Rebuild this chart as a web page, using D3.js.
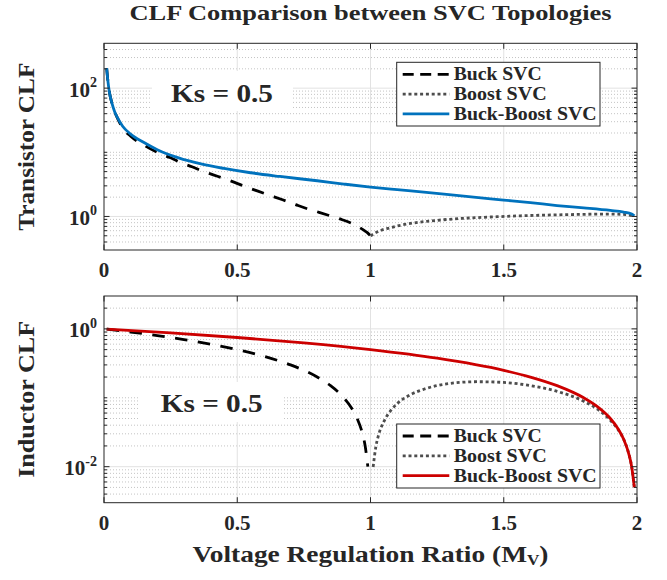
<!DOCTYPE html>
<html><head><meta charset="utf-8">
<script src="https://cdn.jsdelivr.net/npm/d3@7"></script>
<style>
body{margin:0;background:#fff}
text{font-family:"Liberation Serif","Times New Roman",serif;font-weight:bold;fill:#262626}
</style>
</head><body>
<svg id="c" width="667" height="580"></svg>
<script>
// ---------- data ----------
const xTicks = [0, 0.5, 1, 1.5, 2];
const xTickLabels = ["0", "0.5", "1", "1.5", "2"];
const topYTicks = [1, 100];
const topYExp = ["0", "2"];
const botYTicks = [0.01, 1];
const botYExp = ["-2", "0"];
const seriesNames = ["Buck SVC", "Boost SVC", "Buck-Boost SVC"];

// Transistor CLF
const trBuckM = [0.01,0.015,0.02,0.03,0.04,0.05,0.07,0.1,0.15,0.206,0.25,0.288,0.33,0.369,0.41,0.45,0.49,0.532,0.575,0.62,0.67,0.719,0.76,0.807,0.85,0.894,0.93,0.96,0.98,0.99,1.0];
const trBuckV = [205,125,88,58,43,34.5,24,17.8,12.9,9.7,8.2,6.9,5.95,5.1,4.45,3.9,3.4,2.9,2.5,2.15,1.82,1.53,1.33,1.16,1.02,0.89,0.78,0.67,0.59,0.55,0.5];
const trBoostM = [1.0,1.01,1.02,1.04,1.07,1.1,1.16,1.25,1.34,1.45,1.55,1.7,1.8,1.88,1.94,1.97,1.99];
const trBoostV = [0.5,0.53,0.56,0.61,0.66,0.71,0.79,0.87,0.93,0.98,1.02,1.06,1.08,1.09,1.08,1.05,1.0];
const trBBM = [0.01,0.015,0.02,0.03,0.04,0.05,0.07,0.1,0.15,0.2,0.28,0.36,0.45,0.55,0.66,0.8,0.9,1.0,1.1,1.2,1.35,1.5,1.6,1.7,1.8,1.9,1.95,1.98,1.99];
const trBBV = [205,125,88,58,43,35,25.5,19.2,14.2,11.0,8.2,6.65,5.6,4.8,4.2,3.6,3.2,2.87,2.62,2.4,2.07,1.8,1.64,1.48,1.36,1.24,1.17,1.09,1.02];

// Inductor CLF
const inBuckM = [0.01,0.1,0.2,0.3,0.4,0.5,0.6,0.7,0.8,0.85,0.9,0.93,0.95,0.97,0.98,0.99];
const inBuckV = [0.99,0.9,0.8,0.7,0.6,0.5,0.4,0.3,0.2,0.15,0.1,0.07,0.05,0.03,0.02,0.01];
const inBoostM = [1.01,1.02,1.03,1.05,1.08,1.1,1.15,1.2,1.3,1.4,1.5,1.6,1.7,1.8,1.85,1.9,1.93,1.95,1.97,1.98,1.99];
const inBoostV = [0.0099,0.0194,0.0285,0.045,0.068,0.082,0.111,0.133,0.162,0.171,0.167,0.15,0.124,0.089,0.069,0.047,0.034,0.025,0.015,0.01,0.005];
const inBBM = [0.01,0.25,0.5,0.75,1.0,1.25,1.5,1.6,1.7,1.8,1.85,1.9,1.93,1.95,1.97,1.98,1.99];
const inBBV = [0.995,0.875,0.75,0.625,0.5,0.375,0.25,0.2,0.15,0.1,0.075,0.05,0.035,0.025,0.015,0.01,0.005];

// ---------- layout ----------
const svg = d3.select("#c");
const L = 104, R = 637;
const x = d3.scaleLinear().domain([0, 2]).range([L, R]);
const AX = "#262626";
const legendLens = [88, 93, 143];

const panels = [
  {top: 43.3, bottom: 250, domain: [0.3, 500], majors: topYTicks, exps: topYExp,
   label: "Transistor CLF", labelLen: 168, bbColor: "#0072BD",
   data: [[trBuckM, trBuckV], [trBoostM, trBoostV], [trBBM, trBBV]],
   ks: {cx: 222, base: 101.7, box: [152, 71, 141, 40]},
   legend: {x: 396.7, y: 62.3, w: 203.3, h: 63.7}},
  {top: 296, bottom: 502.7, domain: [0.003, 3], majors: botYTicks, exps: botYExp,
   label: "Inductor CLF", labelLen: 157, bbColor: "#cc0000",
   data: [[inBuckM, inBuckV], [inBoostM, inBoostV], [inBBM, inBBV]],
   ks: {cx: 211.7, base: 411.7, box: [140, 382, 143, 40]},
   legend: {x: 396.7, y: 424, w: 203.3, h: 64}}
];

const styles = [
  {stroke: "#000", w: 2.8, dash: "12.5,10.5", ldash: "11,6.5"},
  {stroke: "#4d4d4d", w: 2.8, dash: "3,2.8", ldash: "3,2.8"},
  null
];

panels.forEach((p, pi) => {
  const y = d3.scaleLog().domain(p.domain).range([p.bottom, p.top]);
  const g = svg.append("g");
  const allTicks = y.ticks();
  const isMajor = v => p.majors.some(m => Math.abs(m - v) / m < 1e-6);
  const minors = allTicks.filter(v => !isMajor(v) && y(v) > p.top + 0.5 && y(v) < p.bottom - 0.5);

  // minor grid (dotted)
  g.selectAll(".mg").data(minors).enter().append("line")
    .attr("x1", L).attr("x2", R).attr("y1", d => y(d)).attr("y2", d => y(d))
    .attr("stroke", "#c4c4c4").attr("stroke-width", 1).attr("stroke-dasharray", "1,2");
  // major grid
  g.selectAll(".Mg").data(p.majors).enter().append("line")
    .attr("x1", L).attr("x2", R).attr("y1", d => y(d)).attr("y2", d => y(d))
    .attr("stroke", "#e2e2e2").attr("stroke-width", 1);
  g.selectAll(".Mx").data(xTicks.slice(1, -1)).enter().append("line")
    .attr("x1", d => x(d)).attr("x2", d => x(d)).attr("y1", p.top).attr("y2", p.bottom)
    .attr("stroke", "#e2e2e2").attr("stroke-width", 1);

  // Ks box + text
  const kb = p.ks.box;
  g.append("rect").attr("x", kb[0]).attr("y", kb[1]).attr("width", kb[2]).attr("height", kb[3]).attr("fill", "#fff");
  g.append("text").attr("x", p.ks.cx).attr("y", p.ks.base).attr("text-anchor", "middle")
    .style("font-size", "25px").attr("textLength", 102).attr("lengthAdjust", "spacingAndGlyphs")
    .text("Ks = 0.5");

  // curves
  const clipId = "clip" + pi;
  svg.append("clipPath").attr("id", clipId).append("rect")
    .attr("x", L).attr("y", p.top).attr("width", R - L).attr("height", p.bottom - p.top);
  const line = d3.line().x(d => x(d[0])).y(d => y(d[1])).curve(d3.curveMonotoneX);
  const cg = g.append("g").attr("clip-path", `url(#${clipId})`);
  p.data.forEach((s, si) => {
    const pts = s[0].map((m, i) => [m, s[1][i]]);
    const st = styles[si] || {stroke: p.bbColor, w: 2.8, dash: null};
    cg.append("path").attr("d", line(pts)).attr("fill", "none")
      .attr("stroke", st.stroke).attr("stroke-width", st.w)
      .attr("stroke-dasharray", st.dash);
  });

  // axes box
  g.append("rect").attr("x", L).attr("y", p.top).attr("width", R - L).attr("height", p.bottom - p.top)
    .attr("fill", "none").attr("stroke", AX).attr("stroke-width", 1);

  // ticks (inward, mirrored)
  const MT = 5.5, mt = 3;
  xTicks.forEach(v => {
    g.append("line").attr("x1", x(v)).attr("x2", x(v)).attr("y1", p.bottom).attr("y2", p.bottom - MT).attr("stroke", AX);
    g.append("line").attr("x1", x(v)).attr("x2", x(v)).attr("y1", p.top).attr("y2", p.top + MT).attr("stroke", AX);
  });
  p.majors.forEach(v => {
    g.append("line").attr("x1", L).attr("x2", L + MT).attr("y1", y(v)).attr("y2", y(v)).attr("stroke", AX);
    g.append("line").attr("x1", R).attr("x2", R - MT).attr("y1", y(v)).attr("y2", y(v)).attr("stroke", AX);
  });
  minors.forEach(v => {
    g.append("line").attr("x1", L).attr("x2", L + mt).attr("y1", y(v)).attr("y2", y(v)).attr("stroke", AX);
    g.append("line").attr("x1", R).attr("x2", R - mt).attr("y1", y(v)).attr("y2", y(v)).attr("stroke", AX);
  });

  // tick labels
  g.selectAll(".xl").data(xTicks).enter().append("text")
    .attr("x", d => x(d)).attr("y", p.bottom + 27).attr("text-anchor", "middle")
    .style("font-size", "21px").text((d, i) => xTickLabels[i]);
  p.majors.forEach((v, i) => {
    const t = g.append("text").attr("x", 97).attr("y", y(v) + 8.5).attr("text-anchor", "end")
      .style("font-size", "21px");
    t.append("tspan").text("10");
    t.append("tspan").attr("dy", -9.5).style("font-size", "14px").text(p.exps[i]);
  });

  // y label
  const cy = (p.top + p.bottom) / 2;
  g.append("text").attr("transform", `translate(34,${cy}) rotate(-90)`)
    .attr("text-anchor", "middle").style("font-size", "24px")
    .attr("textLength", p.labelLen).attr("lengthAdjust", "spacingAndGlyphs")
    .text(p.label);

  // legend
  const lg = p.legend;
  const lgg = svg.append("g");
  lgg.append("rect").attr("x", lg.x).attr("y", lg.y).attr("width", lg.w).attr("height", lg.h)
    .attr("fill", "#fff").attr("stroke", AX).attr("stroke-width", 1);
  seriesNames.forEach((nm, si) => {
    const ry = lg.y + 12 + si * 19.8;
    const st = styles[si] || {stroke: p.bbColor, w: 2.8, ldash: null};
    lgg.append("line").attr("x1", lg.x + 6).attr("x2", lg.x + 52.6).attr("y1", ry).attr("y2", ry)
      .attr("stroke", st.stroke).attr("stroke-width", st.w).attr("stroke-dasharray", st.ldash);
    lgg.append("text").attr("x", lg.x + 57).attr("y", ry + 6).style("font-size", "18px")
      .attr("textLength", legendLens[si]).attr("lengthAdjust", "spacingAndGlyphs").text(nm);
  });
});

// title
svg.append("text").attr("x", 370.5).attr("y", 20).attr("text-anchor", "middle")
  .style("font-size", "21px").attr("textLength", 482).attr("lengthAdjust", "spacingAndGlyphs")
  .text("CLF Comparison between SVC Topologies");

// x label
const xl = svg.append("text").attr("x", 370.5).attr("y", 562).attr("text-anchor", "middle")
  .style("font-size", "24px").attr("textLength", 356).attr("lengthAdjust", "spacingAndGlyphs");
xl.append("tspan").text("Voltage Regulation Ratio (M");
xl.append("tspan").attr("dy", 3).style("font-size", "15px").text("V");
xl.append("tspan").attr("dy", -3).text(")");
</script>
</body></html>
